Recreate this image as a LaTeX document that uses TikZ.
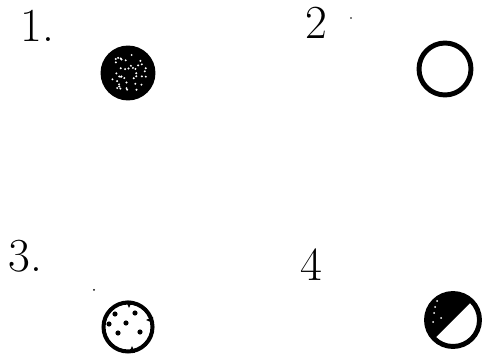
\documentclass[tikz,border=0pt]{standalone}
\usepackage{tikz}
\usetikzlibrary{calc}

\begin{document}
\begin{tikzpicture}[
    x=0.02cm, y=-0.02cm,
    num/.style={font=\fontsize{27}{27}\selectfont, inner sep=0pt, anchor=north west},
    disc/.style={draw, circle, line width=2.8pt, minimum size=0.98cm, inner sep=0pt},
    speck/.style={fill=white},
    dot/.style={fill=black},
  ]
    \useasboundingbox (0,0) rectangle (487,354);

    % labels
    \node[num] (lbl1) at (20,10)  {1.};
    \node[num] (lbl2) at (305,7)  {2};
    \node[num] (lbl3) at (8,240)  {3.};
    \node[num] (lbl4) at (300,248) {4};
    \fill (351,18) circle (0.9);
    \fill (94,290) circle (1);

    % 1: dark disc with light speckles
    \node[disc, fill=black, minimum size=1cm] (c1) at (128,73) {};
    \pgfmathsetseed{7}
    \foreach \i in {1,...,40} {
      \pgfmathsetmacro{\ang}{360*rnd}
      \pgfmathsetmacro{\rad}{19*sqrt(rnd)}
      \fill[speck] ($(c1.center)+(\ang:\rad)$) circle (1.1);
    }

    % 2: open ring
    \node[disc, minimum size=1.04cm] (c2) at (445,69) {};

    % 3: ring with dots and notches
    \node[disc, line width=2.3pt] (c3) at (128,327) {};
    \foreach \p in {(115,314),(135,313),(109,324),(126,323),(118,333),(140,332)}
      \fill[dot] \p circle (2.6);
    \fill (126,301) -- (132,301) -- (129,308) -- cycle;
    \fill (153,317) -- (153,323) -- (146,320) -- cycle;
    \fill (129,353) -- (135,353) -- (132,346) -- cycle;

    % 4: half-dark disc
    \node[disc, minimum size=1.06cm] (c4) at (453,320) {};
    \begin{scope}
      \clip (c4.center) circle (26);
      \fill (493,280) -- (453,240) -- (373,320) -- (413,360) -- cycle;
    \end{scope}
    \foreach \p in {(437,301),(435,307),(434,313),(433,322),(441,318)}
      \fill[speck] \p circle (1);
\end{tikzpicture}
\end{document}
